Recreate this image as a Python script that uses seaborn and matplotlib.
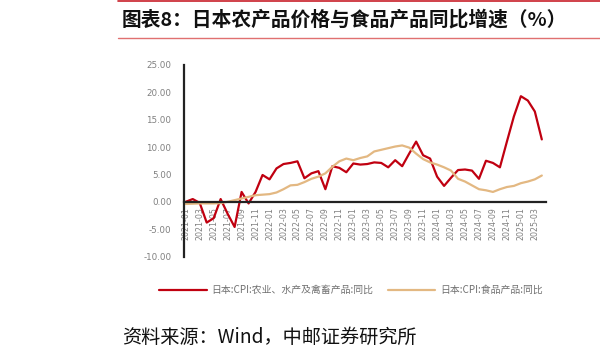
import matplotlib
matplotlib.use("Agg")
import matplotlib.pyplot as plt
import seaborn as sns
import pandas as pd
import numpy as np
from matplotlib.ticker import FuncFormatter
from matplotlib.lines import Line2D

months = list(pd.date_range("2021-01-01", periods=52, freq="MS").strftime("%Y-%m"))

agri_yoy = [0.0, 0.5, -0.2, -3.8, -3.0, 0.5, -2.2, -4.6, 1.8, -0.3,
            1.8, 4.9, 4.1, 6.1, 6.9, 7.1, 7.4, 4.3, 5.2, 5.6,
            2.3, 6.5, 6.2, 5.4, 7.0, 6.8, 6.9, 7.2, 7.1, 6.3,
            7.6, 6.5, 8.8, 11.0, 8.5, 7.9, 4.6, 2.9, 4.4, 5.8,
            5.9, 5.7, 4.2, 7.5, 7.1, 6.3, 11.0, 15.6, 19.3, 18.5,
            16.5, 11.4]
food_yoy = [-0.4, -0.35, -0.3, -0.3, -0.3, -0.25, 0.0, 0.3, 0.6, 0.9,
            1.2, 1.3, 1.4, 1.7, 2.3, 3.0, 3.1, 3.6, 4.2, 4.6,
            5.2, 6.4, 7.4, 7.9, 7.6, 8.0, 8.3, 9.2, 9.5, 9.8,
            10.1, 10.3, 9.9, 8.8, 7.8, 7.2, 6.8, 6.3, 5.7, 4.2,
            3.7, 3.0, 2.3, 2.1, 1.8, 2.3, 2.7, 2.9, 3.4, 3.7,
            4.1, 4.8]

series_names = ["日本:CPI:农业、水产及禽畜产品:同比", "日本:CPI:食品产品:同比"]
colors = ["#C00010", "#E3B882"]

title = "图表8：日本农产品价格与食品产品同比增速（%）"
source = "资料来源：Wind，中邮证券研究所"

sns.set_theme(style="white")
plt.rcParams['font.family'] = ['Noto Sans CJK SC', 'DejaVu Sans']

df = pd.DataFrame({
    "idx": list(range(len(months))) * 2,
    "value": agri_yoy + food_yoy,
    "series": [series_names[0]] * len(months) + [series_names[1]] * len(months),
})

fig = plt.figure(figsize=(6.0, 3.57), dpi=100)
ax = fig.add_axes([184/600, 1-256.5/357, (546-184)/600, (256.5-65)/357])

sns.lineplot(data=df, x="idx", y="value", hue="series", palette=colors,
             linewidth=1.6, ax=ax, legend=False, sort=False)

ax.set_xlim(-0.25, 51.6)
ax.set_ylim(-10, 25)
ax.set_yticks([-10, -5, 0, 5, 10, 15, 20, 25])
ax.yaxis.set_major_formatter(FuncFormatter(lambda v, p: f"{v:.2f}"))
tick_pos = list(range(0, len(months), 2))
ax.set_xticks(tick_pos)
ax.set_xticklabels([months[i] for i in tick_pos])
ax.set_xlabel("")
ax.set_ylabel("")

for s in ["top", "right"]:
    ax.spines[s].set_visible(False)
ax.spines["left"].set_color("#222222")
ax.spines["left"].set_linewidth(1.6)
ax.spines["bottom"].set_position(("data", 0))
ax.spines["bottom"].set_color("#222222")
ax.spines["bottom"].set_linewidth(1.6)
ax.tick_params(axis="y", length=0, pad=9, labelsize=6.3, labelcolor="#808080")
ax.tick_params(axis="x", length=2.5, width=1.0, direction="out", color="#222222",
               pad=1.5, labelrotation=90, labelsize=5.7, labelcolor="#808080")
for lab in ax.get_xticklabels() + ax.get_yticklabels():
    lab.set_family("DejaVu Sans")
ax.grid(False)

# legend
handles = [Line2D([0], [0], color=colors[0], lw=1.6),
           Line2D([0], [0], color=colors[1], lw=1.6)]
leg = fig.legend(handles, series_names, loc="center", bbox_to_anchor=(351/600, 1-290/357),
                 ncol=2, frameon=False, handlelength=4.8, columnspacing=1.4,
                 handletextpad=0.5, prop={"family": ["Noto Sans CJK SC", "DejaVu Sans"], "size": 7.1})
for t in leg.get_texts():
    t.set_color("#707070")

# title and decorative lines
fig.add_artist(Line2D([118/600, 1.0], [1-0.8/357, 1-0.8/357], color="#C8202A", lw=1.2))
fig.add_artist(Line2D([118/600, 1.0], [1-38/357, 1-38/357], color="#E07070", lw=1.0))
fig.text(122/600, 1-19/357, title, fontsize=14.2, fontweight="bold",
         ha="left", va="center", color="#111111")
fig.text(122/600, 1-337/357, source, fontsize=13.8, ha="left", va="center", color="#111111")

fig.savefig("out.png", dpi=100)
